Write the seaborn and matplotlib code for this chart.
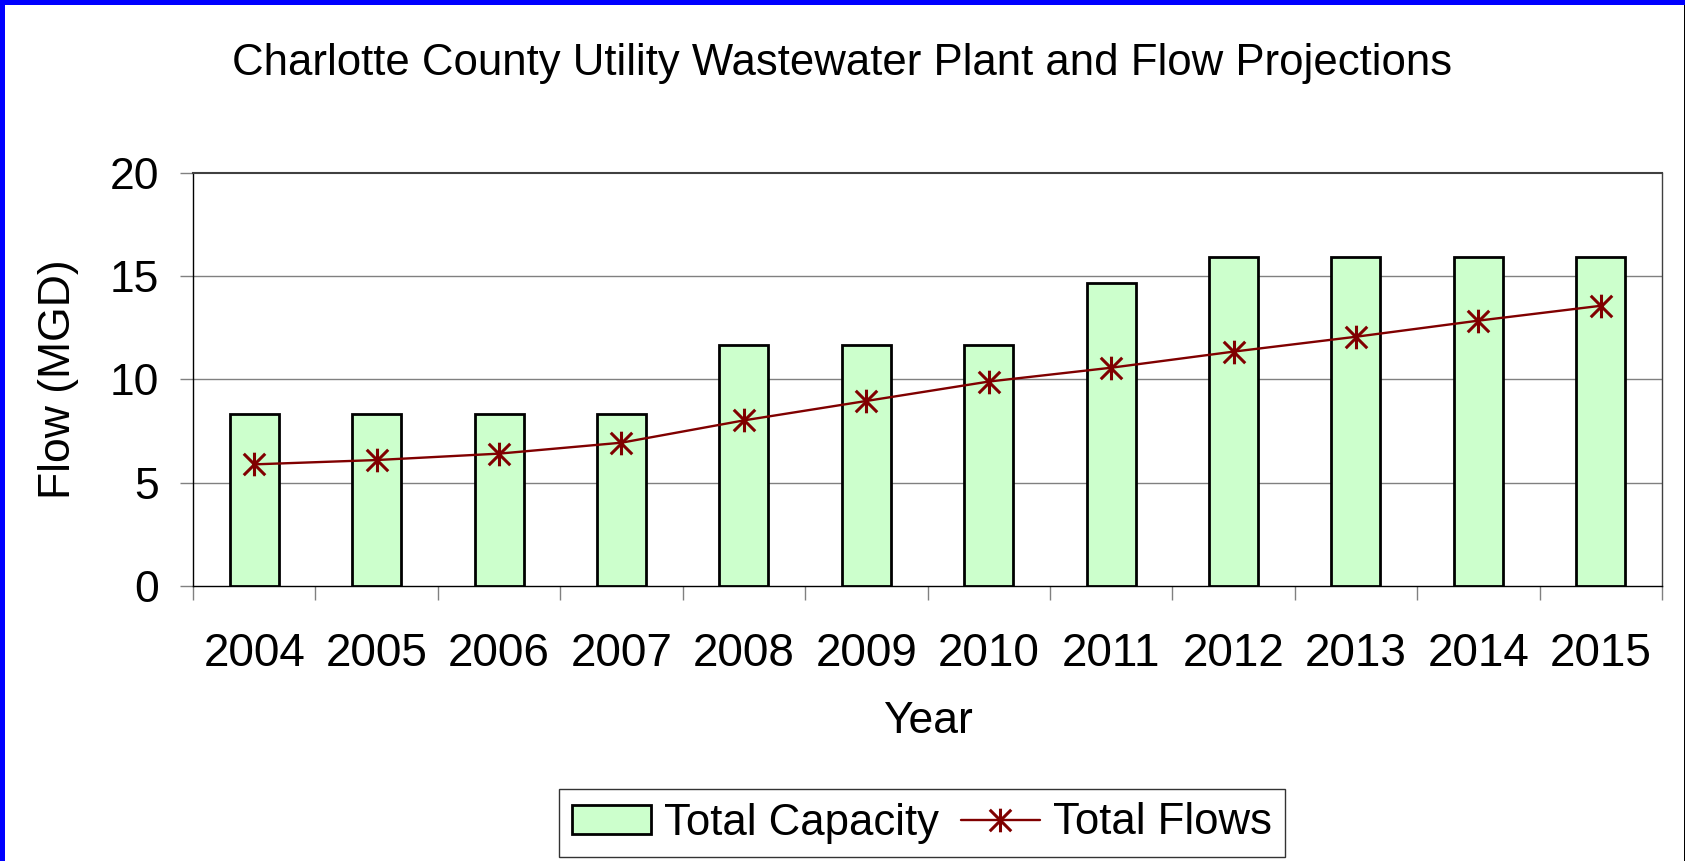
import pandas as pd
import matplotlib.pyplot as plt
import seaborn as sns
import numpy as np
from matplotlib.patches import Rectangle
from matplotlib.lines import Line2D
from matplotlib.path import Path

# values
years = ['2004', '2005', '2006', '2007', '2008', '2009', '2010',
         '2011', '2012', '2013', '2014', '2015']
capacity = [8.33, 8.33, 8.33, 8.33, 11.67, 11.67, 11.67, 14.67, 15.95, 15.95, 15.95, 15.95]
flows = [5.89, 6.10, 6.41, 6.94, 8.02, 8.96, 9.90, 10.57, 11.35, 12.07, 12.85, 13.57]

df = pd.DataFrame({'Year': years, 'Total Capacity': capacity, 'Total Flows': flows})

sns.set_style('white')
plt.rcParams['font.family'] = ['Liberation Sans', 'DejaVu Sans']
plt.rcParams['text.color'] = 'black'
plt.rcParams['axes.labelcolor'] = 'black'
plt.rcParams['xtick.labelcolor'] = 'black'
plt.rcParams['ytick.labelcolor'] = 'black'

# excel style star: an X with a vertical stroke
star = Path([(-1, -1), (1, 1), (-1, 1), (1, -1), (0, -1.1), (0, 1.1)],
            [Path.MOVETO, Path.LINETO, Path.MOVETO, Path.LINETO, Path.MOVETO, Path.LINETO])

W, H = 1685, 861
fig = plt.figure(figsize=(W / 100, H / 100), dpi=100)
ax = fig.add_axes([193 / W, 1 - 586 / H, (1662 - 193) / W, (586 - 173) / H])

# bars
sns.barplot(x='Year', y='Total Capacity', data=df, ax=ax, color='#CCFFCC',
            edgecolor='black', linewidth=2, width=0.4, saturation=1, zorder=3)

# line with star markers
sns.lineplot(x=np.arange(len(years)), y=df['Total Flows'], ax=ax, color='#800000',
             linewidth=1.7, marker=star, markersize=17, markeredgewidth=2.2,
             markerfacecolor='none', markeredgecolor='#800000', zorder=4)

ax.set_xlim(-0.5, len(years) - 0.5)
ax.set_ylim(0, 20)
ax.set_yticks([0, 5, 10, 15, 20])
ax.tick_params(axis='y', which='major', length=9.5, width=1, color='#808080',
               direction='out', labelsize=32, pad=15, left=True)
ax.set_xticks(np.arange(-0.5, len(years)), minor=True)
ax.tick_params(axis='x', which='minor', length=10, width=1, color='#808080',
               direction='out', bottom=True)
ax.tick_params(axis='x', which='major', length=0, labelsize=33, pad=33)

# horizontal gridlines
for yv in [5, 10, 15]:
    ax.axhline(yv, color='#808080', linewidth=1, zorder=1)

for s in ax.spines.values():
    s.set_color('black')
    s.set_linewidth(1)
ax.spines['top'].set_linewidth(1.5)
ax.spines['top'].set_color('#404040')
ax.spines['right'].set_color('#404040')

ax.set_xlabel('Year', fontsize=32, labelpad=18)
ax.set_ylabel('Flow (MGD)', fontsize=32, labelpad=22)

fig.suptitle('Charlotte County Utility Wastewater Plant and Flow Projections',
             fontsize=31.5, x=0.5, y=1 - 64 / H, va='center')

# legend
handles = [Rectangle((0, 0), 1, 1, facecolor='#CCFFCC', edgecolor='black', linewidth=2),
           Line2D([0], [0], color='#800000', linewidth=1.7, marker=star,
                  markersize=17, markeredgewidth=2.2, markerfacecolor='none')]
leg = fig.legend(handles, ['Total Capacity', 'Total Flows'], ncol=2, loc='center',
                 bbox_to_anchor=(922 / W, 1 - 823 / H), frameon=True, fancybox=False,
                 edgecolor='black', handlelength=1.8, handleheight=0.65, columnspacing=0.5,
                 handletextpad=0.3, borderpad=0.3, fontsize=31.5)
leg.get_frame().set_linewidth(1)

# blue frame around the chart area
fig.add_artist(Rectangle((0, 0), 5 / W, 1, transform=fig.transFigure,
                         facecolor='#0000FF', edgecolor='none'))
fig.add_artist(Rectangle((0, 1 - 5 / H), 1, 5 / H, transform=fig.transFigure,
                         facecolor='#0000FF', edgecolor='none'))
fig.add_artist(Rectangle((1 - 1.5 / W, 0), 1.5 / W, 1 - 5 / H, transform=fig.transFigure,
                         facecolor='black', edgecolor='none'))

fig.savefig('out.png', dpi=100)
